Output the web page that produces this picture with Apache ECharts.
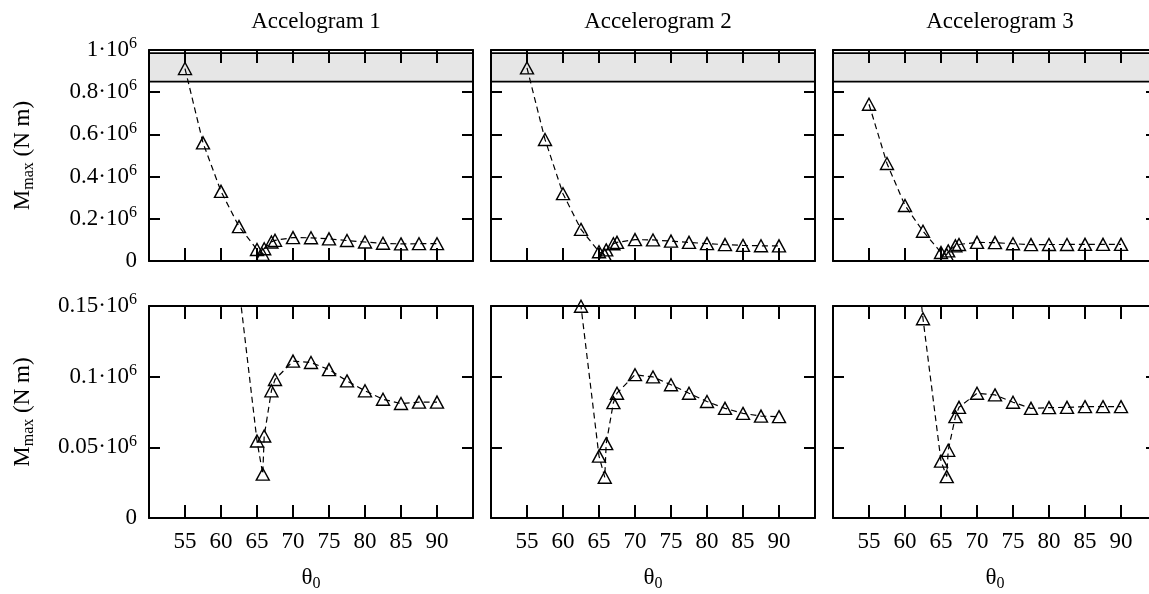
<!DOCTYPE html>
<html>
<head>
<meta charset="utf-8">
<script src="https://cdn.jsdelivr.net/npm/echarts@6/dist/echarts.min.js"></script>
<style>
html,body{margin:0;padding:0;background:#fff;}
#chart{width:1149px;height:594px;}
</style>
</head>
<body>
<div id="chart"></div>
<script>
// ---- data (moments in units of 10^6 N m) ----
const panelTitles = ['Accelogram 1', 'Accelerogram 2', 'Accelerogram 3'];
const theta0 = [55, 57.5, 60, 62.5, 65, 65.8, 66, 67, 67.5, 70, 72.5, 75, 77.5, 80, 82.5, 85, 87.5, 90];
const acc1 = [0.912, 0.560, 0.330, 0.163, 0.0545, 0.031, 0.058, 0.090, 0.098, 0.111, 0.110, 0.105, 0.097, 0.090, 0.084, 0.081, 0.082, 0.082];
const acc2 = [0.915, 0.576, 0.319, 0.1498, 0.0438, 0.0288, 0.0526, 0.0816, 0.0883, 0.1014, 0.0998, 0.0943, 0.0883, 0.0824, 0.0776, 0.0740, 0.0721, 0.0717];
const acc3 = [0.743, 0.462, 0.263, 0.141, 0.0402, 0.0293, 0.0479, 0.0717, 0.0783, 0.0883, 0.0871, 0.0819, 0.0776, 0.0781, 0.0783, 0.0788, 0.0788, 0.0788];
const xTickLabels = ['55', '60', '65', '70', '75', '80', '85', '90'];
const topYTicks = ['0', '0.2', '0.4', '0.6', '0.8', '1'];
const bottomYTicks = ['0', '0.05', '0.1', '0.15'];
const yieldBand = [0.85, 0.985];

const series3 = [acc1, acc2, acc3];
const FONT = 'Liberation Serif';
const FS = 23;

const colLeft = [149, 491, 833];
const colWidth = 324;
const rows = [{top: 50, height: 211, min: 0, max: 1, interval: 0.2, ticks: topYTicks},
              {top: 306, height: 212, min: 0, max: 0.15, interval: 0.05, ticks: bottomYTicks}];

const grids = [], xAxes = [], yAxes = [], series = [], titles = [];
function mkRich() {
  return {
    a: {fontFamily: FONT, fontSize: FS, color: '#000', lineHeight: 28},
    b: {fontFamily: FONT, fontSize: 16, color: '#000', verticalAlign: 'top', lineHeight: 15}
  };
}
function subRich(k) {
  const o = {};
  o[k] = {fontFamily: FONT, fontSize: FS, color: '#000', lineHeight: 28};
  o.s = {fontFamily: FONT, fontSize: 16, color: '#000', verticalAlign: 'bottom', lineHeight: 12};
  return o;
}
function yLabel(v, ticks) {
  const s = ticks.find(t => Math.abs(parseFloat(t) - v) < 1e-9);
  if (s === undefined) return '';
  if (s === '0') return '{a|0}';
  return '{a|' + s + '·10}{b|6}';
}
const axLine = () => ({show: true, onZero: false, lineStyle: {color: '#000', width: 2}});
const axTick = (len) => ({show: true, inside: true, length: len, lineStyle: {color: '#000', width: 2}});

panelTitles.forEach((t, c) => {
  titles.push({text: t, left: colLeft[c] + colWidth / 2, top: 5, textAlign: 'center',
    textStyle: {fontFamily: FONT, fontSize: FS, fontWeight: 'normal', color: '#000'}});
});

rows.forEach((r, ri) => {
  for (let c = 0; c < 3; c++) {
    const gi = grids.length;
    grids.push({left: colLeft[c], top: r.top, width: colWidth, height: r.height,
      containLabel: false, outerBoundsMode: 'none'});
    const xb = xAxes.length;
    xAxes.push({
      type: 'value', gridIndex: gi, position: 'bottom', min: 50, max: 95, interval: 5, z: 5,
      axisLine: axLine(), axisTick: axTick(13), splitLine: {show: false},
      axisLabel: {show: ri === 1, margin: 12, fontFamily: FONT, fontSize: FS, color: '#000',
        formatter: v => xTickLabels.includes(String(v)) ? String(v) : ''},
      name: ri === 1 ? '{t|θ}{s|0}' : '', nameLocation: 'middle', nameGap: 46,
      nameTextStyle: {rich: subRich('t')}
    });
    xAxes.push({
      type: 'value', gridIndex: gi, position: 'top', min: 50, max: 95, interval: 5, z: 5,
      axisLine: axLine(), axisTick: axTick(13), splitLine: {show: false}, axisLabel: {show: false}
    });
    const yl = yAxes.length;
    yAxes.push({
      type: 'value', gridIndex: gi, position: 'left', min: r.min, max: r.max, interval: r.interval, z: 5,
      axisLine: axLine(), axisTick: axTick(11), splitLine: {show: false},
      axisLabel: {show: c === 0, margin: 12, formatter: v => yLabel(v, r.ticks), rich: mkRich()},
      name: c === 0 ? '{m|M}{s|max}{m| (N m)}' : '', nameLocation: 'middle', nameRotate: 90, nameGap: 112,
      nameTextStyle: {rich: subRich('m')}
    });
    yAxes.push({
      type: 'value', gridIndex: gi, position: 'right', min: r.min, max: r.max, interval: r.interval, z: 5,
      axisLine: axLine(), axisTick: axTick(11), splitLine: {show: false}, axisLabel: {show: false}
    });
    const s = {
      type: 'line', xAxisIndex: xb, yAxisIndex: yl,
      data: theta0.map((x, i) => [x, series3[c][i]]),
      symbol: 'triangle', symbolSize: [13, 12],
      itemStyle: {color: 'rgba(0,0,0,0)', borderColor: '#000', borderWidth: 1.4},
      lineStyle: {color: '#000', width: 1.2, type: [6, 4]},
      clip: true, animation: false, z: 3
    };
    if (ri === 0) {
      s.markArea = {silent: true,
        itemStyle: {color: '#e6e6e6', borderColor: '#000', borderWidth: 1.6},
        data: [[{yAxis: yieldBand[0]}, {yAxis: yieldBand[1]}]]};
    }
    series.push(s);
  }
});

const chart = echarts.init(document.getElementById('chart'), null, {renderer: 'canvas'});
chart.setOption({
  backgroundColor: '#fff',
  animation: false,
  title: titles,
  grid: grids,
  xAxis: xAxes,
  yAxis: yAxes,
  series: series
});
</script>
</body>
</html>
